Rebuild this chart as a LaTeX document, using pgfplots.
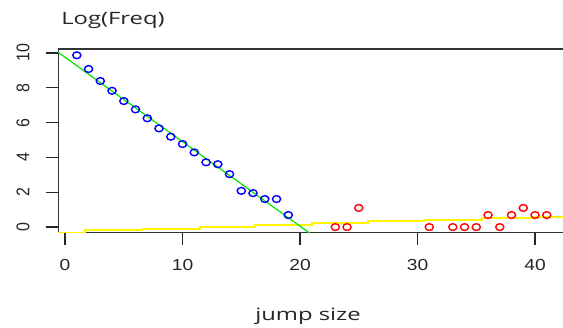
\documentclass[border=0pt]{standalone}
\usepackage{pgfplots}
\pgfplotsset{compat=1.18}
\usepackage{fontspec}
\setmainfont{Liberation Sans}
\newfontfamily\labfont{Open Sans}
\begin{document}
\begin{tikzpicture}[x=1pt,y=1pt]
\begin{axis}[
  at={(58pt,95pt)}, anchor=south west,
  scale only axis, width=505pt, height=184pt,
  xmin=-0.6, xmax=42.38, ymin=-0.34, ymax=10.23,
  axis line style={draw=none},
  xtick={0,10,20,30,40}, ytick={0,2,4,6,8,10},
  xtick pos=bottom, ytick pos=left,
  tick align=outside, major tick length=12pt,
  tick style={black!85, line width=1.3pt},
  /pgf/number format/assume math mode=true,
  tick label style={font=\fontsize{16}{16}\selectfont, color=black!85},
  xticklabel={\scalebox{1.2}[1]{\pgfmathprintnumber{\tick}}},
  yticklabel={\scalebox{1}[1.15]{\pgfmathprintnumber{\tick}}},
  yticklabel style={rotate=90, anchor=south},
  xticklabel shift=11pt, yticklabel shift=13pt,
  clip=true,
]
\draw[line width=1.6pt, black!80] (rel axis cs:0,0) -- (rel axis cs:1,0);
\draw[line width=1.6pt, black!80] (rel axis cs:0,1) -- (rel axis cs:1,1);
\draw[line width=1.6pt, black!80] (rel axis cs:0,0) -- (rel axis cs:0,1);
% yellow step line
\addplot[const plot, color={rgb,255:red,255;green,245;blue,0}, line width=1.8pt] coordinates {
(-0.6,-0.33) (1.7,-0.17) (6.6,-0.10) (11.5,0.02) (16.2,0.13) (21.0,0.25)
(25.8,0.34) (30.6,0.42) (35.5,0.52) (39.8,0.59) (42.5,0.59)};
% green fit line
\addplot[color={rgb,255:red,0;green,230;blue,0}, line width=1.2pt] coordinates {
(-0.65,10.07) (20.85,-0.36)};
% blue points
\addplot[only marks, mark=o, color=blue, mark size=3.4pt, mark options={line width=1.4pt, xscale=1.2}] coordinates {
(1,9.87) (2,9.08) (3,8.39) (4,7.83) (5,7.24) (6,6.76) (7,6.25) (8,5.67) (9,5.19)
(10,4.77) (11,4.29) (12,3.72) (13,3.61) (14,3.04) (15,2.08) (16,1.95) (17,1.61)
(18,1.61) (19,0.69)};
% red points
\addplot[only marks, mark=o, color=red, mark size=3.4pt, mark options={line width=1.4pt, xscale=1.2}] coordinates {
(23,0) (24,0) (25,1.10) (31,0) (33,0) (34,0) (35,0) (36,0.69) (37,0)
(38,0.69) (39,1.10) (40,0.69) (41,0.69)};
\end{axis}
\node[font=\labfont\fontsize{17}{17}\selectfont, color=black!85] at (113,308) {\scalebox{1.4}[1]{Log(Freq)}};
\node[font=\labfont\fontsize{17}{17}\selectfont, color=black!85] at (308,12) {\scalebox{1.4}[1]{jump size}};
\pgfresetboundingbox
\path[use as bounding box] (0,0) rectangle (563,328);
\end{tikzpicture}
\end{document}
